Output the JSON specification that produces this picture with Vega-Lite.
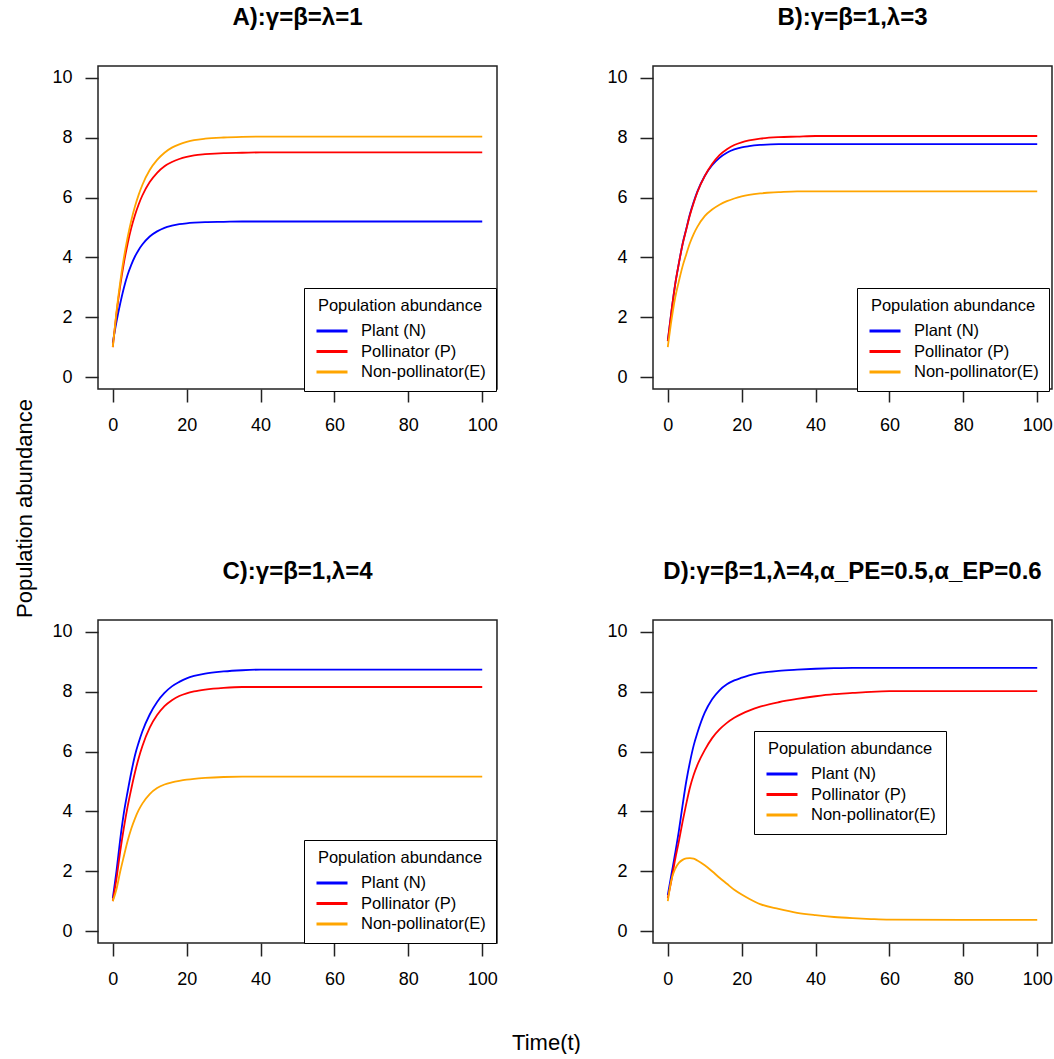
{
  "$schema": "https://vega.github.io/schema/vega-lite/v6.json",
  "background": "white",
  "padding": {"left": 12, "top": 5, "right": 0, "bottom": 0},
  "columns": 2,
  "spacing": {"row": 231, "column": 156},
  "bounds": "flush",
  "resolve": {"legend": {"color": "independent"}},
  "datasets": {
    "A": [
      {"t": 0, "N": 1.15, "P": 1.0, "E": 1.0},
      {"t": 1, "N": 1.85, "P": 2.12, "E": 2.18},
      {"t": 2, "N": 2.45, "P": 3.04, "E": 3.16},
      {"t": 3, "N": 2.98, "P": 3.81, "E": 3.98},
      {"t": 4, "N": 3.41, "P": 4.45, "E": 4.66},
      {"t": 5, "N": 3.75, "P": 4.98, "E": 5.23},
      {"t": 6, "N": 4.03, "P": 5.41, "E": 5.7},
      {"t": 7, "N": 4.25, "P": 5.77, "E": 6.09},
      {"t": 8, "N": 4.43, "P": 6.07, "E": 6.42},
      {"t": 10, "N": 4.7, "P": 6.52, "E": 6.92},
      {"t": 12, "N": 4.87, "P": 6.83, "E": 7.26},
      {"t": 14, "N": 4.99, "P": 7.05, "E": 7.5},
      {"t": 16, "N": 5.06, "P": 7.19, "E": 7.67},
      {"t": 18, "N": 5.11, "P": 7.29, "E": 7.78},
      {"t": 20, "N": 5.14, "P": 7.36, "E": 7.86},
      {"t": 22, "N": 5.16, "P": 7.41, "E": 7.92},
      {"t": 25, "N": 5.18, "P": 7.45, "E": 7.97},
      {"t": 30, "N": 5.19, "P": 7.49, "E": 8.01},
      {"t": 35, "N": 5.2, "P": 7.5, "E": 8.03},
      {"t": 40, "N": 5.2, "P": 7.51, "E": 8.04},
      {"t": 60, "N": 5.2, "P": 7.51, "E": 8.04},
      {"t": 80, "N": 5.2, "P": 7.51, "E": 8.04},
      {"t": 100, "N": 5.2, "P": 7.51, "E": 8.04}
    ],
    "B": [
      {"t": 0, "N": 1.2, "P": 1.2, "E": 1.0},
      {"t": 1, "N": 2.2, "P": 2.2, "E": 1.9},
      {"t": 2, "N": 3.1, "P": 3.1, "E": 2.65},
      {"t": 3, "N": 3.8, "P": 3.8, "E": 3.2},
      {"t": 4, "N": 4.45, "P": 4.43, "E": 3.7},
      {"t": 5, "N": 4.95, "P": 4.93, "E": 4.1},
      {"t": 6, "N": 5.45, "P": 5.42, "E": 4.48},
      {"t": 7, "N": 5.85, "P": 5.82, "E": 4.78},
      {"t": 8, "N": 6.2, "P": 6.18, "E": 5.02},
      {"t": 10, "N": 6.72, "P": 6.72, "E": 5.38},
      {"t": 12, "N": 7.08, "P": 7.12, "E": 5.6},
      {"t": 14, "N": 7.33, "P": 7.42, "E": 5.76},
      {"t": 16, "N": 7.5, "P": 7.62, "E": 5.88},
      {"t": 18, "N": 7.61, "P": 7.76, "E": 5.97},
      {"t": 20, "N": 7.68, "P": 7.85, "E": 6.04},
      {"t": 22, "N": 7.72, "P": 7.91, "E": 6.09},
      {"t": 25, "N": 7.76, "P": 7.97, "E": 6.14},
      {"t": 30, "N": 7.79, "P": 8.02, "E": 6.18},
      {"t": 35, "N": 7.79, "P": 8.04, "E": 6.21},
      {"t": 40, "N": 7.79, "P": 8.06, "E": 6.21},
      {"t": 60, "N": 7.79, "P": 8.06, "E": 6.21},
      {"t": 80, "N": 7.79, "P": 8.06, "E": 6.21},
      {"t": 100, "N": 7.79, "P": 8.06, "E": 6.21}
    ],
    "C": [
      {"t": 0, "N": 1.1, "P": 1.0, "E": 1.0},
      {"t": 1, "N": 2.0, "P": 1.75, "E": 1.4},
      {"t": 2, "N": 3.05, "P": 2.65, "E": 1.98},
      {"t": 3, "N": 3.95, "P": 3.45, "E": 2.5},
      {"t": 4, "N": 4.65, "P": 4.15, "E": 3.0},
      {"t": 5, "N": 5.3, "P": 4.75, "E": 3.42},
      {"t": 6, "N": 5.87, "P": 5.3, "E": 3.76},
      {"t": 7, "N": 6.3, "P": 5.78, "E": 4.04},
      {"t": 8, "N": 6.67, "P": 6.18, "E": 4.26},
      {"t": 10, "N": 7.24, "P": 6.8, "E": 4.58},
      {"t": 12, "N": 7.66, "P": 7.22, "E": 4.78},
      {"t": 14, "N": 7.96, "P": 7.52, "E": 4.9},
      {"t": 16, "N": 8.18, "P": 7.72, "E": 4.97},
      {"t": 18, "N": 8.33, "P": 7.86, "E": 5.02},
      {"t": 20, "N": 8.45, "P": 7.95, "E": 5.06},
      {"t": 22, "N": 8.53, "P": 8.01, "E": 5.09},
      {"t": 25, "N": 8.61, "P": 8.07, "E": 5.12},
      {"t": 30, "N": 8.68, "P": 8.13, "E": 5.15},
      {"t": 35, "N": 8.72, "P": 8.16, "E": 5.16},
      {"t": 40, "N": 8.74, "P": 8.16, "E": 5.16},
      {"t": 60, "N": 8.74, "P": 8.16, "E": 5.16},
      {"t": 80, "N": 8.74, "P": 8.16, "E": 5.16},
      {"t": 100, "N": 8.74, "P": 8.16, "E": 5.16}
    ],
    "D": [
      {"t": 0, "N": 1.2, "P": 1.1, "E": 1.0},
      {"t": 1, "N": 1.9, "P": 1.7, "E": 1.72},
      {"t": 2, "N": 2.6, "P": 2.4, "E": 2.08},
      {"t": 3, "N": 3.35, "P": 3.0, "E": 2.28},
      {"t": 4, "N": 4.2, "P": 3.65, "E": 2.38},
      {"t": 5, "N": 5.0, "P": 4.25, "E": 2.43},
      {"t": 6, "N": 5.65, "P": 4.8, "E": 2.44},
      {"t": 7, "N": 6.2, "P": 5.22, "E": 2.42},
      {"t": 8, "N": 6.62, "P": 5.55, "E": 2.36},
      {"t": 10, "N": 7.3, "P": 6.05, "E": 2.2},
      {"t": 12, "N": 7.75, "P": 6.45, "E": 2.0},
      {"t": 14, "N": 8.05, "P": 6.74, "E": 1.78},
      {"t": 16, "N": 8.25, "P": 6.96, "E": 1.58},
      {"t": 18, "N": 8.38, "P": 7.13, "E": 1.38},
      {"t": 20, "N": 8.47, "P": 7.26, "E": 1.22},
      {"t": 22, "N": 8.55, "P": 7.37, "E": 1.08},
      {"t": 25, "N": 8.63, "P": 7.5, "E": 0.9},
      {"t": 30, "N": 8.7, "P": 7.65, "E": 0.74},
      {"t": 35, "N": 8.74, "P": 7.76, "E": 0.61},
      {"t": 40, "N": 8.77, "P": 7.85, "E": 0.53},
      {"t": 45, "N": 8.79, "P": 7.92, "E": 0.47},
      {"t": 50, "N": 8.8, "P": 7.96, "E": 0.43},
      {"t": 55, "N": 8.8, "P": 8.0, "E": 0.4},
      {"t": 60, "N": 8.8, "P": 8.02, "E": 0.38},
      {"t": 80, "N": 8.8, "P": 8.02, "E": 0.37},
      {"t": 100, "N": 8.8, "P": 8.02, "E": 0.37}
    ]
  },
  "concat": [
    {
      "data": {"name": "A"},
      "transform": [{"fold": ["N", "P", "E"], "as": ["sp", "v"]}],
      "width": 399,
      "height": 323,
      "title": "A):γ=β=λ=1",
      "mark": {"type": "line", "interpolate": "monotone", "strokeWidth": 1.8},
      "encoding": {
        "x": {"field": "t", "type": "quantitative", "scale": {"domain": [-4, 104], "nice": false, "zero": false}, "axis": {"values": [0, 20, 40, 60, 80, 100], "title": null}},
        "y": {"field": "v", "type": "quantitative", "scale": {"domain": [-0.4, 10.4], "nice": false, "zero": false}, "axis": {"values": [0, 2, 4, 6, 8, 10], "title": "Population abundance", "titleX": -74, "titleY": 442, "titleAngle": 270, "titleAlign": "center", "titleBaseline": "middle"}},
        "color": {"field": "sp", "type": "nominal", "scale": {"domain": ["N", "P", "E"], "range": ["#0000ff", "#ff0000", "#ffa500"]},
          "legend": {"title": "Population abundance", "legendX": 206, "legendY": 222, "labelExpr": "datum.label == 'N' ? 'Plant (N)' : datum.label == 'P' ? 'Pollinator (P)' : 'Non-pollinator(E)'"}}
      }
    },
    {
      "data": {"name": "B"},
      "transform": [{"fold": ["N", "P", "E"], "as": ["sp", "v"]}],
      "width": 399,
      "height": 323,
      "title": "B):γ=β=1,λ=3",
      "mark": {"type": "line", "interpolate": "monotone", "strokeWidth": 1.8},
      "encoding": {
        "x": {"field": "t", "type": "quantitative", "scale": {"domain": [-4, 104], "nice": false, "zero": false}, "axis": {"values": [0, 20, 40, 60, 80, 100], "title": null}},
        "y": {"field": "v", "type": "quantitative", "scale": {"domain": [-0.4, 10.4], "nice": false, "zero": false}, "axis": {"values": [0, 2, 4, 6, 8, 10], "title": null}},
        "color": {"field": "sp", "type": "nominal", "scale": {"domain": ["N", "P", "E"], "range": ["#0000ff", "#ff0000", "#ffa500"]},
          "legend": {"title": "Population abundance", "legendX": 204, "legendY": 222, "labelExpr": "datum.label == 'N' ? 'Plant (N)' : datum.label == 'P' ? 'Pollinator (P)' : 'Non-pollinator(E)'"}}
      }
    },
    {
      "data": {"name": "C"},
      "transform": [{"fold": ["N", "P", "E"], "as": ["sp", "v"]}],
      "width": 399,
      "height": 323,
      "title": "C):γ=β=1,λ=4",
      "mark": {"type": "line", "interpolate": "monotone", "strokeWidth": 1.8},
      "encoding": {
        "x": {"field": "t", "type": "quantitative", "scale": {"domain": [-4, 104], "nice": false, "zero": false}, "axis": {"values": [0, 20, 40, 60, 80, 100], "title": "Time(t)", "titleX": 448, "titleY": 99, "titleAlign": "center", "titleBaseline": "middle"}},
        "y": {"field": "v", "type": "quantitative", "scale": {"domain": [-0.4, 10.4], "nice": false, "zero": false}, "axis": {"values": [0, 2, 4, 6, 8, 10], "title": null}},
        "color": {"field": "sp", "type": "nominal", "scale": {"domain": ["N", "P", "E"], "range": ["#0000ff", "#ff0000", "#ffa500"]},
          "legend": {"title": "Population abundance", "legendX": 206, "legendY": 220, "labelExpr": "datum.label == 'N' ? 'Plant (N)' : datum.label == 'P' ? 'Pollinator (P)' : 'Non-pollinator(E)'"}}
      }
    },
    {
      "data": {"name": "D"},
      "transform": [{"fold": ["N", "P", "E"], "as": ["sp", "v"]}],
      "width": 399,
      "height": 323,
      "title": "D):γ=β=1,λ=4,α_PE=0.5,α_EP=0.6",
      "mark": {"type": "line", "interpolate": "monotone", "strokeWidth": 1.8},
      "encoding": {
        "x": {"field": "t", "type": "quantitative", "scale": {"domain": [-4, 104], "nice": false, "zero": false}, "axis": {"values": [0, 20, 40, 60, 80, 100], "title": null}},
        "y": {"field": "v", "type": "quantitative", "scale": {"domain": [-0.4, 10.4], "nice": false, "zero": false}, "axis": {"values": [0, 2, 4, 6, 8, 10], "title": null}},
        "color": {"field": "sp", "type": "nominal", "scale": {"domain": ["N", "P", "E"], "range": ["#0000ff", "#ff0000", "#ffa500"]},
          "legend": {"title": "Population abundance", "legendX": 101, "legendY": 111, "labelExpr": "datum.label == 'N' ? 'Plant (N)' : datum.label == 'P' ? 'Pollinator (P)' : 'Non-pollinator(E)'"}}
      }
    }
  ],
  "config": {
    "font": "Liberation Sans",
    "view": {"stroke": "#222", "strokeWidth": 1.5},
    "axis": {"domain": false, "grid": false, "tickSize": 13, "tickWidth": 1.5, "tickColor": "#222", "labelFontSize": 18, "labelFont": "Liberation Sans", "labelColor": "#000", "titleFont": "Liberation Sans", "titleFontSize": 22, "titleFontWeight": "normal", "titleColor": "#000"},
    "axisX": {"labelPadding": 14},
    "axisY": {"labelPadding": 13},
    "title": {"fontSize": 24, "fontWeight": "bold", "font": "Liberation Sans", "offset": 36, "color": "#000", "anchor": "middle"},
    "legend": {"orient": "none", "padding": 10, "strokeColor": "#000", "fillColor": "#fff", "symbolType": "stroke", "symbolSize": 961, "symbolStrokeWidth": 3, "symbolOffset": 1, "labelOffset": 12, "clipHeight": 16, "rowPadding": 3.5, "titlePadding": 8.5, "labelFontSize": 16.5, "titleFontSize": 16.5, "titleFontWeight": "normal", "titleAnchor": "middle", "labelColor": "#000", "titleColor": "#000", "labelFont": "Liberation Sans", "titleFont": "Liberation Sans"}
  }
}
